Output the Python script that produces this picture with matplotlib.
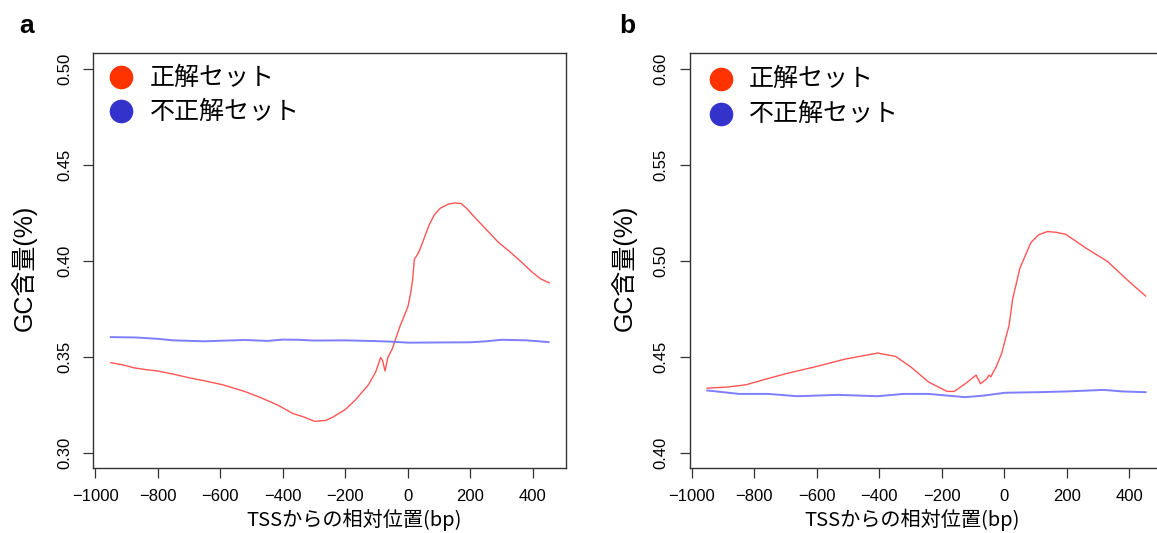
import numpy as np
import matplotlib
matplotlib.use('Agg')
import matplotlib.pyplot as plt

plt.rcParams['font.family'] = ['Liberation Sans', 'Noto Sans CJK JP']
plt.rcParams['axes.unicode_minus'] = True

#%% データ（TSSからの相対位置 bp, GC含量）
# a: 正解セット
a_pos_x = [-950, -911, -876, -840, -799, -750, -699, -650, -593, -522, -470, -416, -368, -333,
           -298, -262, -239, -200, -168, -126, -103, -87, -81, -73, -64, -50, -26, 0, 9, 15,
           21, 30, 39, 55, 68, 85, 104, 130, 151, 170, 187, 220, 258, 290, 328, 365, 399, 425, 452]
a_pos_y = [0.3469, 0.3457, 0.3442, 0.3433, 0.3425, 0.3409, 0.3390, 0.3374, 0.3354, 0.3319, 0.3286,
           0.3248, 0.3204, 0.3186, 0.3163, 0.3168, 0.3186, 0.3225, 0.3274, 0.3354, 0.3420, 0.3496,
           0.3480, 0.3425, 0.3496, 0.3540, 0.3655, 0.3760, 0.3832, 0.3900, 0.4009, 0.4030, 0.4060,
           0.4130, 0.4186, 0.4240, 0.4274, 0.4295, 0.4301, 0.4298, 0.4274, 0.4215, 0.4150, 0.4095,
           0.4044, 0.3990, 0.3938, 0.3905, 0.3885]
# a: 不正解セット
a_neg_x = [-950, -870, -800, -750, -650, -600, -520, -450, -400, -350, -300, -200, -100, -50,
           0, 100, 200, 250, 300, 380, 450]
a_neg_y = [0.3602, 0.3600, 0.3593, 0.3585, 0.3580, 0.3583, 0.3587, 0.3582, 0.3589, 0.3588,
           0.3584, 0.3585, 0.3581, 0.3578, 0.3573, 0.3574, 0.3575, 0.3580, 0.3588, 0.3585, 0.3576]

# b: 正解セット
b_pos_x = [-950, -883, -825, -767, -697, -603, -510, -405, -347, -300, -242, -183, -160, -125,
           -90, -76, -55, -49, -43, -25, -8, 5, 15, 27, 50, 85, 110, 138, 165, 196, 260, 330,
           400, 452]
b_pos_y = [0.4336, 0.4342, 0.4354, 0.4381, 0.4412, 0.4448, 0.4487, 0.4519, 0.4501, 0.4448,
           0.4368, 0.4319, 0.4319, 0.4359, 0.4404, 0.4359, 0.4386, 0.4404, 0.4395, 0.4450,
           0.4519, 0.4600, 0.4660, 0.4802, 0.4961, 0.5094, 0.5135, 0.5152, 0.5148, 0.5138,
           0.5067, 0.4996, 0.4890, 0.4816]
# b: 不正解セット
b_neg_x = [-950, -848, -755, -662, -533, -405, -323, -242, -125, -67, 3, 108, 202, 318, 377, 452]
b_neg_y = [0.4324, 0.4306, 0.4306, 0.4294, 0.4301, 0.4294, 0.4306, 0.4306, 0.4289, 0.4297,
           0.4312, 0.4315, 0.4319, 0.4327, 0.4319, 0.4315]

x_ticks = [-1000, -800, -600, -400, -200, 0, 200, 400]
a_yticks = [0.30, 0.35, 0.40, 0.45, 0.50]
b_yticks = [0.40, 0.45, 0.50, 0.55, 0.60]
legend_labels = ['正解セット', '不正解セット']

#%% 描画
fig = plt.figure(figsize=(11.57, 5.33), dpi=100)
W, H = 1157, 533

def r_lim(lo, hi):
    pad = (hi - lo) * 0.04
    return lo - pad, hi + pad

def panel(left, pos_x, pos_y, neg_x, neg_y, yticks, leg_x, txt_x, leg_y):
    ax = fig.add_axes([left / W, (H - 468) / H, 472.8 / W, 414.6 / H])
    ax.plot(pos_x, pos_y, color='#ff5555', lw=1.0)
    ax.plot(neg_x, neg_y, color='#7070ff', lw=1.4, alpha=0.9)
    ax.set_xlim(r_lim(-950, 450))
    ax.set_ylim(r_lim(yticks[0], yticks[-1]))
    ax.set_xticks(x_ticks)
    ax.set_yticks(yticks)
    ax.set_yticklabels(['%.2f' % v for v in yticks], rotation=90, va='center')
    ax.tick_params(direction='out', length=7, width=0.9, color='#333333', labelsize=12)
    ax.tick_params(axis='x', pad=8)
    ax.tick_params(axis='y', pad=8)
    for s in ax.spines.values():
        s.set_color('#333333')
        s.set_linewidth(1.0)
    # 凡例
    ax.plot(leg_x, leg_y[0], 'o', ms=16, color='#ff3300', transform=ax.transAxes, clip_on=False)
    ax.plot(leg_x, leg_y[1], 'o', ms=16, color='#3333cc', transform=ax.transAxes, clip_on=False)
    for y, lab in zip(leg_y, legend_labels):
        ax.text(txt_x, y, lab, transform=ax.transAxes, fontsize=18, va='center', ha='left',
                family='Noto Sans CJK JP')
    return ax

panel(93.3, a_pos_x, a_pos_y, a_neg_x, a_neg_y, a_yticks, 0.0594, 0.120, (0.942, 0.860))
panel(689.7, b_pos_x, b_pos_y, b_neg_x, b_neg_y, b_yticks, 0.0662, 0.125, (0.938, 0.854))

# 軸ラベル・パネル記号
for x in (24, 624):
    fig.text(x / W, (H - 268) / H, 'GC含量(%)', rotation=90, fontsize=18, ha='center', va='center')
for x in (354, 912):
    fig.text(x / W, (H - 520) / H, 'TSSからの相対位置(bp)', fontsize=14.5, ha='center', va='center',
             family='Noto Sans CJK JP')
fig.text(26.7 / W, (H - 26) / H, 'a', fontsize=19, fontweight='bold', ha='center', va='center')
fig.text(627 / W, (H - 26) / H, 'b', fontsize=19, fontweight='bold', ha='center', va='center')

fig.savefig('out.png', dpi=100)
